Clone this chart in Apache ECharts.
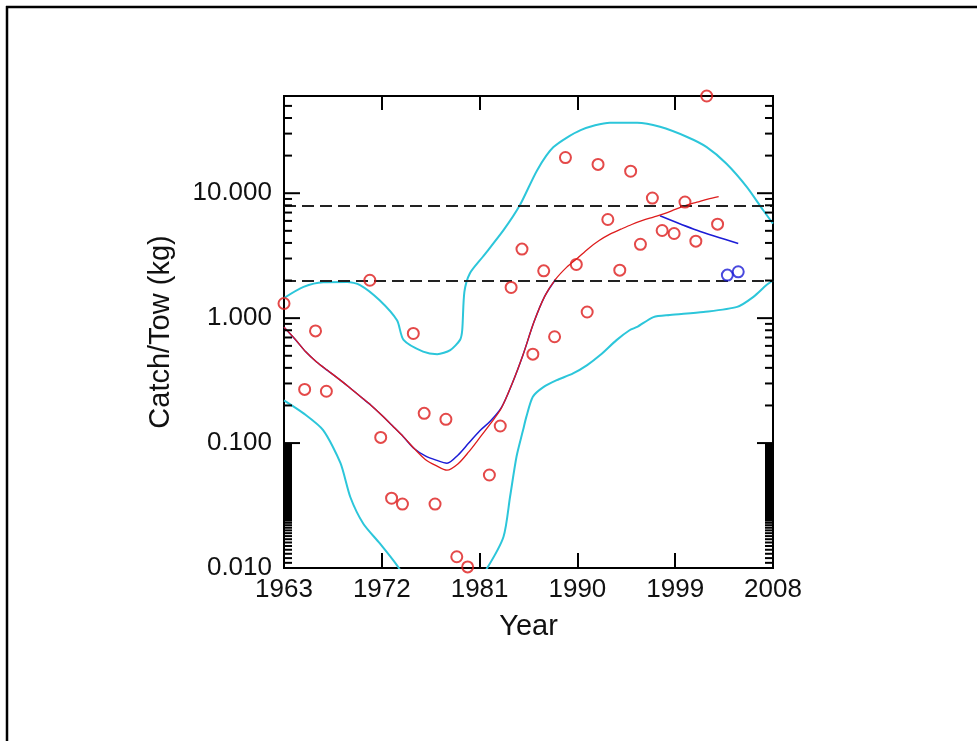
<!DOCTYPE html>
<html>
<head>
<meta charset="utf-8">
<script src="https://cdn.jsdelivr.net/npm/echarts@6/dist/echarts.min.js"></script>
<style>
html,body{margin:0;padding:0;background:#fff;}
#chart{width:977px;height:741px;}
</style>
</head>
<body>
<div id="chart"></div>
<script>
// ---------- data ----------
const X0 = 1963;           // first year on the axis
const X1 = 2008;           // last year on the axis
const xTickStep = 9;
const yMin = 0.01;
const yMax = 60;
const refLines = [2, 8];

// observed catch/tow (red circles)
const obsYears = [1963.0,1964.9,1965.9,1966.9,1970.9,1971.9,1972.9,1973.9,1974.9,1975.9,1976.9,1977.9,1978.9,1979.9,
  1981.9,1982.9,1983.9,1984.9,1985.9,1986.9,1987.9,1988.9,1989.9,1990.9,1991.9,1992.8,1993.9,1994.9,1995.8,
  1996.9,1997.8,1998.9,1999.9,2000.9,2001.9,2002.9];
const obsValues = [1.31,0.269,0.79,0.26,2.01,0.111,0.0362,0.0325,0.754,0.173,0.0325,0.155,0.0123,0.0102,
  0.0555,0.137,1.76,3.57,0.515,2.39,0.71,19.3,2.69,1.12,17.0,6.16,2.42,15.0,3.9,
  9.15,5.03,4.76,8.5,4.13,60,5.65];

// recent observations (blue circles)
const newYears = [2003.8, 2004.8];
const newValues = [2.21, 2.35];

// fitted trend (red line)
const fitYears = [1963,1964,1965,1966,1967,1968,1969,1970,1971,1972,1973,1974,1975,1976,1977,1978,1979,1980,
  1981,1982,1983,1984,1985,1986,1987,1988,1989,1990,1991,1992,1993,1994,1995,1996,1997,1998,1999,2000,2001,2002,2003];
const fitValues = [0.847,0.682,0.538,0.446,0.382,0.328,0.280,0.237,0.201,0.167,0.137,0.112,0.090,0.074,0.066,0.0607,
  0.068,0.085,0.110,0.143,0.190,0.300,0.510,0.930,1.50,2.05,2.55,3.02,3.60,4.18,4.70,5.15,5.62,6.05,6.44,6.86,
  7.41,8.0,8.47,8.98,9.4];

// alternative trend (blue line), null = gap
const altYears = [1963,1964,1965,1966,1967,1968,1969,1970,1971,1972,1973,1974,1975,1976,1977,1978,1979,1980,
  1981,1982,1983,1984,1985,1986,1987,1988,1990,1997.6,2001,2004.8];
const altValues = [0.847,0.682,0.538,0.446,0.382,0.328,0.280,0.237,0.201,0.167,0.137,0.112,0.090,0.079,0.073,0.069,
  0.080,0.100,0.125,0.150,0.192,0.300,0.510,0.930,1.50,2.05,null,6.6,5.05,3.96];

// upper confidence bound (cyan)
const upYears = [1963.0,1964.8,1966.6,1968.8,1970.0,1971.8,1973.4,1974.0,1975.8,1977.1,1978.3,1979.2,1979.4,1979.6,
  1980.1,1981.3,1983.2,1984.7,1986.3,1987.8,1990.3,1993.0,1995.5,1997.6,2000.1,2001.9,2003.7,2005.6,2007.1,2008.0];
const upValues = [1.45,1.78,1.94,1.95,1.84,1.39,0.96,0.67,0.54,0.515,0.555,0.67,0.80,1.62,
  2.28,3.1,5.06,8.0,15.3,23.4,32,36.7,36.7,34,28.2,23.4,17.3,11.2,7.3,5.7];

// lower confidence bound (cyan)
const loYears = [1963.0,1964.8,1966.6,1968.2,1969.1,1970.3,1971.8,1973.4,1975.0,1977.5,1980.0,1981.7,1983.2,1983.8,
  1984.4,1985.0,1985.3,1985.9,1986.9,1988.1,1989.6,1990.9,1992.1,1993.6,1994.8,1995.5,1997.0,1998.5,2001.6,
  2004.7,2006.2,2007.4,2008.0];
const loValues = [0.22,0.173,0.127,0.069,0.037,0.0226,0.0158,0.0105,0.0065,0.0045,0.0062,0.0100,0.0178,0.037,
  0.078,0.127,0.162,0.235,0.282,0.319,0.361,0.421,0.506,0.667,0.80,0.85,1.02,1.06,1.12,
  1.23,1.48,1.84,2.0];

// y-axis tick decorations (values)
const yMajorTicks = [0.01, 0.1, 1, 10];
const yMinorTicks = [0.2,0.3,0.4,0.5,0.6,0.7,0.8,0.9,2,3,4,5,6,7,8,9,20,30,40,50,
  0.011,0.012,0.013,0.014,0.015,0.016,0.017,0.018,0.019,0.020,0.021,0.022,0.023];
const yTickBlock = [0.0235, 0.1];

// ---------- build ----------
const pairs = (xs, ys) => xs.map((x, i) => [x - X0, ys[i]]);
const FONT = 'Liberation Sans';
const RED = '#dd1c1c', BLUE = '#1c1cd6', CYAN = '#2cc6da';

const tickData = yMajorTicks.map(v => [0, v, 16]).concat(yMinorTicks.map(v => [0, v, 8]));

const chart = echarts.init(document.getElementById('chart'), null, {renderer: 'canvas'});
const option = {
  animation: false,
  backgroundColor: '#fff',
  graphic: [
    {type: 'line', shape: {x1: 7, y1: 6, x2: 7, y2: 741}, style: {stroke: '#000', lineWidth: 2.5}},
    {type: 'line', shape: {x1: 6, y1: 7, x2: 977, y2: 7}, style: {stroke: '#000', lineWidth: 2.5}}
  ],
  grid: {left: 284, right: 204, top: 96, bottom: 173, show: true, borderColor: '#000', borderWidth: 2, backgroundColor: 'transparent'},
  xAxis: [{
    type: 'value', min: 0, max: X1 - X0, interval: xTickStep, position: 'bottom',
    name: 'Year', nameLocation: 'middle', nameGap: 44,
    nameTextStyle: {fontFamily: FONT, fontSize: 29, color: '#111'},
    axisLine: {show: false},
    axisTick: {show: true, inside: true, length: 15, lineStyle: {color: '#000', width: 2}},
    axisLabel: {fontFamily: FONT, fontSize: 26, color: '#111', margin: 9, formatter: v => String(v + X0)},
    splitLine: {show: false}
  }, {
    type: 'value', min: 0, max: X1 - X0, interval: xTickStep, position: 'top',
    axisLine: {show: false},
    axisTick: {show: true, inside: true, length: 14, lineStyle: {color: '#000', width: 2}},
    axisLabel: {show: false},
    splitLine: {show: false}
  }],
  yAxis: [{
    type: 'log', logBase: 10, min: yMin, max: yMax,
    name: 'Catch/Tow (kg)', nameLocation: 'middle', nameGap: 109, nameRotate: 90,
    nameTextStyle: {fontFamily: FONT, fontSize: 29, color: '#111'},
    axisLine: {show: false},
    axisTick: {show: false},
    minorTick: {show: false},
    axisLabel: {fontFamily: FONT, fontSize: 26, color: '#111', margin: 12,
      formatter: v => { const e = Math.log10(v); return Math.abs(e - Math.round(e)) < 1e-6 ? v.toFixed(3) : ''; }},
    splitLine: {show: false}
  }],
  series: [
    {
      type: 'custom', name: 'yticks', silent: true, z: 10, clip: false,
      xAxisIndex: 0, yAxisIndex: 0,
      data: tickData,
      renderItem: function (params, api) {
        const v = api.value(1), len = api.value(2);
        const pl = api.coord([0, v]), pr = api.coord([X1 - X0, v]);
        const children = [
          {type: 'line', shape: {x1: pl[0], y1: pl[1], x2: pl[0] + len, y2: pl[1]}, style: {stroke: '#000', lineWidth: 2}},
          {type: 'line', shape: {x1: pr[0], y1: pr[1], x2: pr[0] - len, y2: pr[1]}, style: {stroke: '#000', lineWidth: 2}}
        ];
        if (params.dataIndex === 0) {
          const a = api.coord([0, yTickBlock[1]]), b = api.coord([0, yTickBlock[0]]);
          const c = api.coord([X1 - X0, yTickBlock[1]]);
          children.push({type: 'rect', shape: {x: a[0], y: a[1], width: 8, height: b[1] - a[1]}, style: {fill: '#000'}});
          children.push({type: 'rect', shape: {x: c[0] - 8, y: c[1], width: 8, height: b[1] - a[1]}, style: {fill: '#000'}});
        }
        return {type: 'group', children: children};
      }
    },
    {
      type: 'line', name: 'upper', data: pairs(upYears, upValues), showSymbol: false, symbol: 'none', smooth: 0.25,
      lineStyle: {color: CYAN, width: 2}, z: 2, clip: true, silent: true
    },
    {
      type: 'line', name: 'lower', data: pairs(loYears, loValues), showSymbol: false, symbol: 'none', smooth: 0.25,
      lineStyle: {color: CYAN, width: 2}, z: 2, clip: true, silent: true
    },
    {
      type: 'line', name: 'alt', data: pairs(altYears, altValues), showSymbol: false, symbol: 'none', connectNulls: false, smooth: 0.3,
      lineStyle: {color: BLUE, width: 1.5}, z: 3, silent: true
    },
    {
      type: 'line', name: 'fit', data: pairs(fitYears, fitValues), showSymbol: false, symbol: 'none', smooth: 0.3,
      lineStyle: {color: RED, width: 1.3}, z: 4, silent: true,
      markLine: {
        silent: true, symbol: 'none', label: {show: false},
        lineStyle: {color: '#222', type: [12, 6], width: 2},
        data: refLines.map(v => ({yAxis: v}))
      }
    },
    {
      type: 'scatter', name: 'obs', data: pairs(obsYears, obsValues), symbol: 'circle', symbolSize: 11, clip: false,
      itemStyle: {color: 'transparent', borderColor: RED, borderWidth: 2}, z: 5, silent: true
    },
    {
      type: 'scatter', name: 'new', data: pairs(newYears, newValues), symbol: 'circle', symbolSize: 11, clip: false,
      itemStyle: {color: 'transparent', borderColor: BLUE, borderWidth: 2}, z: 5, silent: true
    }
  ]
};
chart.setOption(option);
</script>
</body>
</html>
